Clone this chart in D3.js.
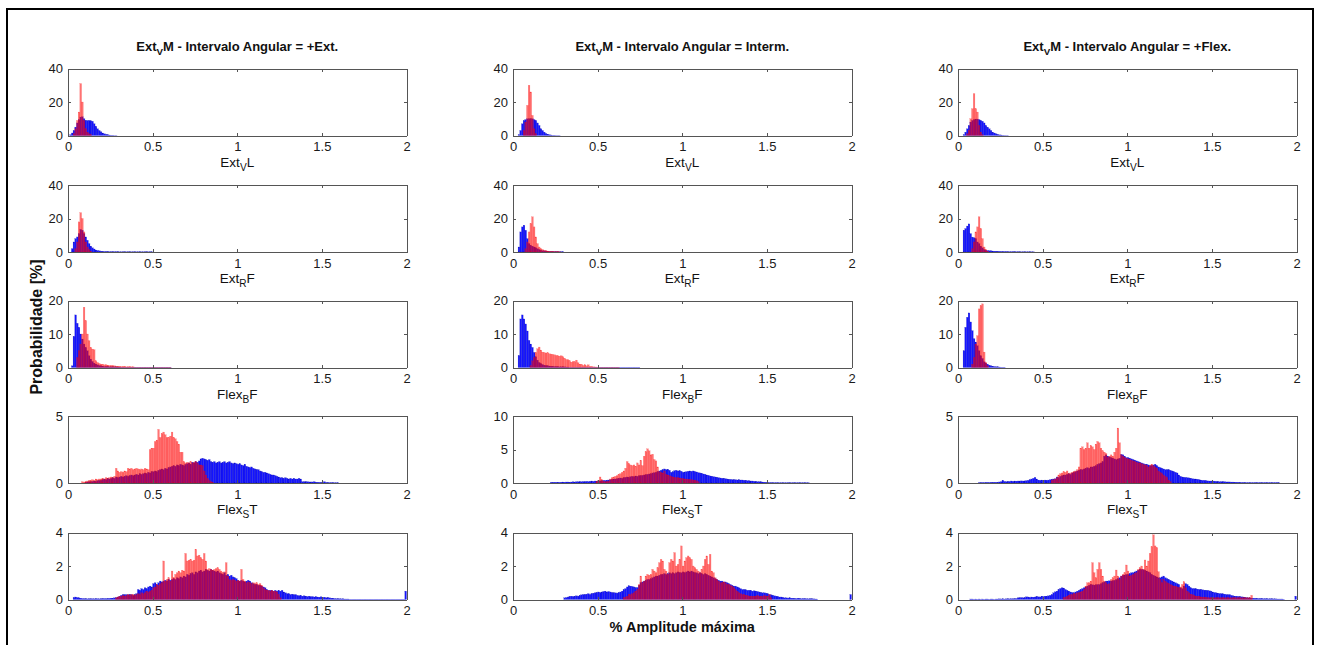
<!DOCTYPE html>
<html>
<head>
<meta charset="utf-8">
<script src="https://cdn.jsdelivr.net/npm/d3@7"></script>
<style>
  body { margin: 0; background: #fff; }
  svg { display: block; font-family: "Liberation Sans", Arial, sans-serif; }
  .ax path, .ax line { stroke: #555; shape-rendering: crispEdges; }
</style>
</head>
<body>
<div id="chart"></div>
<script>
// histogram bins are 0.01 wide; first entry of every series = index of its first bin
var binW = 0.01;
var xTicks = [0, 0.5, 1, 1.5, 2];
var colTitles = ["+Ext.", "Interm.", "+Flex."];
var rowLabels = [["Ext", "V", "L"], ["Ext", "R", "F"], ["Flex", "B", "F"], ["Flex", "S", "T"], null];
var yTicks = [
  [[0, 20, 40], [0, 20, 40], [0, 20, 40]],
  [[0, 20, 40], [0, 20, 40], [0, 20, 40]],
  [[0, 10, 20], [0, 10, 20], [0, 10, 20]],
  [[0, 5], [0, 5, 10], [0, 5]],
  [[0, 2, 4], [0, 2, 4], [0, 2, 4]]
];

// row 1 - Ext_V L
var b11 = [1, 0.5,1.5,3,5,7.5,9.5,11,11.2,10,9,9,9,8.8,8.5,7,5.5,4,3,2.2,1.5,1,0.7,0.5,0.3,0.2,0.2,0.1,0.1];
var r11 = [3, 1,4,9,14,31,20,9,4,2,1,0.5];
var b12 = [3, 0.5,3,7,9,9.5,10,10,10,10,9.5,9,7.5,6,4,3,2,1.2,0.8,0.5,0.3,0.2,0.2,0.1,0.1,0.1];
var r12 = [6, 3,8,18,30,26,12,4,1];
var b13 = [3, 0.5,2,4,6,8,9,9.5,9.8,9.8,9.5,9,8.5,7.5,6,5,4,3,2,1.5,1,0.6,0.4,0.3,0.2,0.15,0.1,0.1];
var r13 = [5, 1,3,10,16,25,16,14,6,2,0.5];

// row 2 - Ext_R F
var b21 = [2, 2,6,8,9,11,13.5,13,11,9,7,5,3.5,2.5,1.8,1.2,0.9,0.7,0.5,0.4,0.3,0.3,0.3,0.2,0.2,0.2,0.2,0.2,0.2,
  0.1,0.1,0.1,0.1,0.1,0.1,0.1,0.1,0.1,0.1,0.1,0.1,0.1,0.1,0.1,0.1,0.1,0.1,0.1,0.1];
var r21 = [4, 2,6,18,23.5,20,12,6,3,1.5,0.5];
var b22 = [3, 3,12,15,16,13,8,5,4,3.5,3,2.5,2,1.5,1,0.8,0.7,0.6,0.5,0.4,0.4,0.3,0.3,0.3,0.2,0.2,0.2,0.2];
var r22 = [7, 2,6,12,17,21,15,9,5,3,2,1.5,1,0.8,0.6,0.5,0.4,0.3,0.3,0.2,0.2,0.2];
var b23 = [3, 13,14,15.5,16.8,11,8.9,8.5,8,6,5,3.5,2.5,1.5,1,0.9,0.8,0.7,0.6,0.5,0.5,0.4,0.4,0.3,0.3,0.3,0.3,
  0.2,0.2,0.2,0.2,0.2,0.15,0.15,0.1,0.1,0.1,0.1,0.1,0.1,0.1,0.1,0.1];
var r23 = [8, 2,6,12,15,21,14,8,3,1.5,0.5];

// row 3 - Flex_B F
var b31 = [2, 0.5,9.3,15.7,13.2,12,10,8.5,7,6,5,3.5,2.5,1.8,1.3,1,0.8,0.6,0.5,0.4,0.3,0.3,0.3,0.2,0.2,0.2,0.2,
  0.2,0.15,0.15,0.1,0.1,0.1,0.1,0.1,0.1,0.1,0.1,0.1,0.1,0.1,0.1,0.1,0.1,0.1,0.1,0.1,0.1,0.1,0.1,0.1,0.1,0.1,0.1,
  0.1,0.1,0.1,0.1,0.1,0.1];
var r31 = [5, 3,5,7,10,18,14,10,8,6,5.5,5.3,2,1.5,1.2,1,0.9,0.8,0.8,0.7,0.6,0.6,0.5,0.5,0.4,0.4,0.4,0.3,0.3,
  0.3,0.2,0.2,0.2,0.2,0.2,0.1,0.1,0.1,0.1,0.1,0.1,0.1,0.1,0.1,0.1,0.1,0.1,0.1,0.1,0.1,0.1,0.1,0.1,0.1,0.1,0.1,0.1];
var b32 = [3, 3.6,14.5,15.7,14.5,13,10.9,8.1,7,6,4.5,3.2,2.2,1.5,1.2,0.9,0.7,0.6,0.5,0.45,0.4,0.35,0.3,0.3,
  0.25,0.2,0.2,0.2,0.2,0.15,0.15,0.1,0.1,0.1,0.1,0.1,0.1,0.1,0.1,0.1,0.1,0.1,0.1,0.1,0.1,0.1,0.1,0.1,0.1,0.1,
  0.1,0.1,0.1,0.1,0.1,0.1,0.1,0.1,0.1,0.1,0.1,0.1,0.1,0.1,0.1,0.1,0.1,0.1,0.1,0.1,0.1,0.1,0.1];
var r32 = [10, 0.5,2,3,4.5,5.6,6.1,5.2,4.6,4.5,4.3,4.4,4.1,4,3.8,3.8,3.6,3.5,3.4,3.5,3.2,2.8,2.4,2.3,2,1.6,
  1.8,1.7,2.2,1.4,1,1,0.6,0.8,0.5,0.8,0.3,0.2,0.2,0.15,0.15,0.1,0.1,0.1,0.1,0.1,0.1,0.1,0.1,0.1,0.1,0.1,0.1,0.1];
var b33 = [3, 5,12,15,16.3,13.6,11,8.6,7.6,6.5,5,3.5,2.7,1.7,1.3,1,0.7,0.5,0.4,0.3,0.2,0.2,0.15,0.1,0.1,0.1];
var r33 = [8, 1,3,7,9.5,17.5,18.5,19,4.6,1.5,0.5];

// row 4 - Flex_S T
var b41 = [10,
  0.05,0.08,0.1,0.1,0.12,0.15,0.12,0.18,0.2,0.2,
  0.25,0.3,0.25,0.35,0.3,0.35,0.4,0.35,0.45,0.4,
  0.45,0.5,0.45,0.5,0.55,0.5,0.55,0.6,0.55,0.6,
  0.65,0.6,0.7,0.65,0.7,0.75,0.7,0.8,0.75,0.85,
  0.85,0.9,0.85,0.95,1.0,1.05,1.0,1.1,1.05,1.15,
  1.2,1.25,1.3,1.25,1.35,1.3,1.4,1.35,1.3,1.4,
  1.45,1.5,1.4,1.55,1.5,1.6,1.55,1.65,1.8,1.85,
  1.8,1.75,1.7,1.75,1.6,1.55,1.6,1.5,1.55,1.6,
  1.5,1.55,1.6,1.5,1.55,1.6,1.5,1.45,1.5,1.45,
  1.4,1.45,1.35,1.3,1.4,1.25,1.2,1.15,1.2,1.1,
  1.05,1.0,1.0,0.9,0.85,0.8,0.8,0.75,0.7,0.65,
  0.6,0.6,0.55,0.5,0.45,0.4,0.4,0.35,0.4,0.35,
  0.3,0.35,0.3,0.35,0.3,0.3,0.35,0.3,0.1,0.1,
  0.1,0.1,0.08,0.08,0.08,0.1,0.06,0.06,0.05,0.05,
  0.05,0.1,0.04,0.04,0.03,0.03,0.03,0.02,0.02,0.02];
var r41 = [8,
  0.1,0.05,
  0.1,0.15,0.2,0.2,0.25,0.2,0.3,0.25,0.3,0.3,
  0.35,0.3,0.4,0.35,0.4,0.45,0.4,0.5,1.1,0.9,
  0.8,0.85,0.8,0.9,0.85,1.1,1.05,1.1,1.0,1.05,
  1.1,1.05,1.0,1.05,1.0,1.1,1.05,1.0,2.5,2.6,
  2.6,3.1,3.2,4.0,3.4,3.7,3.8,3.6,3.4,3.4,
  3.5,3.8,3.4,3.3,3.1,2.9,2.3,2.3,1.6,1.5,
  1.55,1.5,1.6,1.5,1.55,1.6,1.5,1.35,1.35,1.3,
  0.9,0.6,0.35,0.2,0.1,0.05];
var b42 = [22,
  0.1,0.1,0.12,0.1,0.12,0.1,0.12,0.15,
  0.12,0.15,0.15,0.12,0.15,0.18,0.15,0.2,0.18,0.2,
  0.2,0.22,0.2,0.25,0.22,0.25,0.3,0.25,0.3,0.28,
  0.3,0.32,0.35,0.4,0.38,0.42,0.45,0.5,0.55,0.6,
  0.6,0.65,0.7,0.75,0.7,0.8,0.85,0.9,0.85,0.95,
  1.0,0.95,1.05,1.0,1.1,1.1,1.15,1.2,1.25,1.3,
  1.35,1.4,1.5,1.55,1.6,1.7,1.8,1.9,2.0,2.1,
  2.0,2.05,1.9,1.6,1.7,1.85,1.9,1.8,1.85,1.75,
  1.6,1.65,1.7,1.75,1.8,1.75,1.8,1.7,1.65,1.55,
  1.5,1.45,1.35,1.3,1.2,1.15,1.05,1.0,0.95,0.9,
  0.85,0.8,0.75,0.7,0.7,0.65,0.6,0.55,0.55,0.5,
  0.5,0.5,0.45,0.5,0.45,0.45,0.4,0.4,0.35,0.35,
  0.3,0.3,0.25,0.25,0.2,0.2,0.18,0.15,0.12,0.1,
  0.08,0.07,0.06,0.05,0.05,0.05,0.04,0.04,0.04,0.04,
  0.04,0.04,0.04,0.04,0.04,0.04,0.04,0.04,0.04,0.04,0.04,0.04,0.04,0.04,0.04];
var r42 = [49,
  0.2,
  0.4,0.9,0.5,0.3,0.2,0.2,0.3,0.6,0.8,0.9,
  1.0,1.1,1.3,1.4,1.6,1.8,2.2,3.2,2.9,2.7,
  2.6,2.7,2.5,3.0,2.7,3.4,2.6,4.0,4.7,5.1,
  4.8,4.2,4.3,3.5,3.3,2.4,1.7,1.6,1.5,1.8,
  1.3,1.2,1.1,1.0,0.9,0.85,0.8,0.8,0.75,0.7,
  0.65,0.6,0.6,0.55,0.5,0.5,0.45,0.4,0.35,0.2];
var b43 = [12,
  0.03,0.03,0.04,0.03,0.04,0.05,0.04,0.05,
  0.05,0.06,0.05,0.06,0.08,0.1,0.2,0.12,0.1,0.12,
  0.12,0.15,0.12,0.15,0.14,0.15,0.15,0.16,0.15,0.16,
  0.18,0.2,0.25,0.3,0.35,0.42,0.3,0.22,0.2,0.22,
  0.2,0.22,0.2,0.22,0.25,0.28,0.3,0.32,0.45,0.4,
  0.5,0.55,0.6,0.6,0.65,0.7,0.65,0.75,0.8,0.85,
  0.9,0.95,1.0,1.0,1.05,1.1,1.15,1.1,1.2,1.2,
  1.25,1.3,1.4,1.45,1.5,1.6,2.0,2.1,2.0,1.95,
  1.9,1.85,1.8,1.75,1.8,1.85,2.14,2.1,2.0,1.9,
  1.9,1.85,1.8,1.75,1.7,1.65,1.6,1.55,1.5,1.45,
  1.4,1.4,1.35,1.3,1.3,1.35,1.4,1.3,1.2,1.15,
  1.1,1.05,1.0,1.0,1.0,0.95,0.9,0.85,0.8,0.75,
  0.6,0.5,0.45,0.42,0.42,0.4,0.38,0.35,0.32,0.3,
  0.3,0.28,0.25,0.22,0.2,0.2,0.18,0.16,0.15,0.15,
  0.15,0.14,0.12,0.12,0.1,0.1,0.1,0.1,0.08,0.08,
  0.08,0.07,0.07,0.06,0.06,0.05,0.05,0.04,0.04,0.04,
  0.03,0.03,0.03,0.03,0.03,0.03,0.03,0.03,0.03,0.03,0.03,0.03,0.03,0.03,0.03,0.03,0.03,0.03,0.03,0.03];
var r43 = [55,
  0.2,0.25,0.3,0.4,0.6,
  0.7,0.75,0.85,0.8,0.9,0.7,0.75,0.8,0.85,0.9,
  1.0,1.2,2.6,2.7,2.5,2.6,3.0,2.6,2.8,2.7,
  2.5,2.9,3.1,3.0,2.6,2.4,2.3,2.2,1.9,2.0,
  2.1,2.0,2.3,2.6,4.1,3.0,2.1,2.0,1.9,1.85,
  1.8,1.75,1.7,1.65,1.6,1.55,1.5,1.5,1.45,1.4,
  1.35,1.3,1.2,1.3,1.4,1.3,1.2,1.1,0.9,0.8,
  0.7,0.6,0.5,0.4,0.2,0.1];

// row 5 - no label
var b51 = [3,
  0.12,0.15,0.12,0.1,0.08,0.06,0.05,
  0.05,0.04,0.05,0.04,0.05,0.04,0.05,0.05,0.04,0.05,
  0.05,0.06,0.05,0.06,0.07,0.08,0.08,0.1,0.12,0.15,
  0.2,0.25,0.3,0.28,0.3,0.28,0.3,0.3,0.25,0.3,
  0.35,0.6,0.55,0.65,0.6,0.7,0.65,0.75,0.8,0.75,
  0.95,1.0,0.9,1.0,1.1,1.05,1.1,1.15,1.1,1.2,
  1.15,1.2,1.25,1.2,1.3,1.25,1.35,1.3,1.4,1.35,
  1.5,1.45,1.55,1.6,1.5,1.65,1.6,1.7,1.75,1.65,
  1.7,1.8,1.75,1.7,1.8,1.75,1.7,1.65,1.7,1.6,
  1.55,1.5,1.6,1.45,1.5,1.4,1.45,1.35,1.3,1.25,
  1.15,1.1,1.15,1.1,1.05,1.1,1.15,1.1,1.0,0.95,
  0.9,0.9,0.85,0.85,0.8,0.75,0.7,0.6,0.55,0.55,
  0.55,0.5,0.55,0.5,0.55,0.5,0.55,0.45,0.4,0.35,
  0.35,0.3,0.32,0.28,0.3,0.25,0.22,0.25,0.2,0.22,
  0.2,0.18,0.2,0.16,0.18,0.15,0.17,0.15,0.14,0.16,
  0.12,0.14,0.1,0.12,0.1,0.08,0.08,0.06,0.05,0.05,
  0.05,0.04,0.04,0.03,0.03,0.03,0.02,0.02,0.02,0.02,
  0.02,0.02,0.02,0.02,0.02,0.02,0.02,0.02,0.02,0.02,
  0.02,0.02,0.02,0.02,0.02,0.02,0.02,0.02,0.02,0.02,
  0.02,0.02,0.02,0.02,0.02,0.02,0.02,0.02,0.02,0.5];
var r51 = [28,
  0.1,0.15,
  0.2,0.2,0.25,0.2,0.25,0.3,0.25,0.3,0.3,0.25,
  0.3,0.35,0.3,0.4,0.35,0.4,0.5,0.45,0.5,0.55,
  0.7,0.75,0.9,0.85,0.95,1.0,2.3,1.1,1.2,1.3,
  1.1,1.7,1.3,1.5,1.6,1.7,1.6,1.75,1.7,2.75,
  2.3,2.35,2.4,2.3,2.35,3.0,2.6,2.65,2.5,2.4,
  2.75,2.3,1.8,1.85,1.8,1.75,1.8,1.85,1.9,1.8,
  1.7,1.6,1.65,2.2,1.4,1.2,1.15,1.2,1.15,1.1,
  1.15,1.1,1.8,1.2,1.1,1.0,1.05,1.0,0.95,1.0,
  0.95,1.0,0.9,0.95,0.85,0.7,0.6,0.55,0.55,0.5,
  0.55,0.5,0.5,0.45,0.3,0.1];
var b52 = [30,
  0.1,0.12,0.15,0.18,0.2,0.18,0.2,0.22,0.2,0.25,
  0.28,0.3,0.3,0.32,0.35,0.3,0.35,0.38,0.4,0.42,
  0.45,0.42,0.45,0.48,0.5,0.45,0.48,0.45,0.42,0.4,
  0.4,0.38,0.42,0.45,0.5,0.6,0.65,0.75,0.82,0.8,
  0.78,0.75,0.7,0.72,0.85,1.0,1.05,1.1,1.15,1.2,
  1.2,1.25,1.3,1.35,1.4,1.4,1.45,1.5,1.5,1.55,
  1.5,1.55,1.6,1.55,1.6,1.55,1.6,1.65,1.6,1.6,
  1.65,1.6,1.65,1.7,1.65,1.7,1.65,1.6,1.6,1.55,
  1.6,1.55,1.5,1.55,1.5,1.45,1.4,1.35,1.3,1.25,
  1.2,1.15,1.1,1.1,1.05,1.05,1.0,0.95,0.9,0.85,
  0.8,0.8,0.75,0.7,0.65,0.6,0.6,0.58,0.55,0.55,
  0.55,0.5,0.52,0.5,0.48,0.45,0.42,0.4,0.4,0.38,
  0.35,0.3,0.28,0.25,0.22,0.2,0.18,0.15,0.15,0.12,
  0.1,0.1,0.08,0.1,0.08,0.08,0.06,0.06,0.08,0.06,
  0.05,0.06,0.05,0.05,0.04,0.05,0.04,0.04,0.03,0.03,
  0,0,0,0,0,0,0,0,0,0,
  0,0,0,0,0,0,0,0,0,0.3];
var r52 = [65,
  0.1,0.15,0.2,0.3,0.3,
  0.35,0.4,0.5,0.6,0.9,1.4,1.0,1.1,1.4,1.5,
  1.45,1.5,1.8,1.7,1.6,1.9,2.2,2.4,2.3,1.8,
  1.7,1.5,2.2,2.4,2.3,2.8,2.0,2.1,2.4,3.2,
  2.0,2.3,2.5,2.6,2.5,2.4,2.0,1.9,1.8,1.7,
  1.6,1.8,2.0,2.4,2.6,2.1,2.7,1.7,1.6,1.3,
  1.2,1.1,1.0,1.0,1.05,1.0,0.9,0.9,0.85,0.8,
  0.7,0.6,0.5,0.4,0.35,0.3,0.3,0.25,0.25,0.2,
  0.2,0.2,0.2,0.2,0.25,0.2,0.2,0.2,0.25,0.2,0.2,0.3,0.1];
var b53 = [7,
  0.03,0.03,0.02,
  0.03,0.02,0.03,0.02,0.03,0.02,0.03,0.03,0.02,0.03,
  0.03,0.02,0.03,0.03,0.04,0.03,0.04,0.03,0.04,0.04,
  0.04,0.05,0.04,0.05,0.06,0.1,0.1,0.12,0.1,0.12,
  0.16,0.15,0.12,0.15,0.14,0.15,0.18,0.16,0.15,0.2,
  0.18,0.2,0.2,0.22,0.25,0.3,0.4,0.46,0.5,0.6,
  0.66,0.7,0.68,0.6,0.55,0.5,0.45,0.42,0.4,0.45,
  0.5,0.55,0.6,0.65,0.7,0.75,0.8,0.85,0.9,0.88,
  0.86,0.88,0.9,0.9,0.95,1.0,1.05,1.1,1.1,1.12,
  1.1,1.12,1.15,1.2,1.25,1.3,1.4,1.45,1.46,1.5,
  1.5,1.55,1.6,1.6,1.65,1.7,1.75,1.8,1.8,1.78,
  1.75,1.7,1.65,1.6,1.5,1.45,1.4,1.35,1.3,1.3,
  1.35,1.4,1.3,1.25,1.2,1.15,1.1,1.05,1.0,0.95,
  0.9,0.7,0.65,0.8,0.95,0.9,0.8,0.7,0.66,0.65,
  0.65,0.62,0.6,0.6,0.58,0.56,0.55,0.55,0.52,0.5,
  0.45,0.42,0.4,0.38,0.36,0.35,0.34,0.32,0.3,0.28,
  0.3,0.25,0.22,0.2,0.2,0.18,0.18,0.16,0.15,0.14,
  0.12,0.1,0.1,0.08,0.08,0.07,0.07,0.06,0.06,0.06,
  0.05,0.05,0.05,0.04,0.05,0.04,0.04,0.04,0.03,0.03,
  0.03,0.03,0.02,0,0,0,0,0,0,0.2];
var r53 = [62,
  0.1,0.15,0.2,0.25,0.3,0.3,0.35,0.35,
  0.4,0.4,0.45,0.5,0.6,0.8,1.0,1.0,1.1,2.2,
  1.6,1.3,1.8,2.2,1.8,1.4,1.1,1.0,0.9,0.95,
  1.2,1.3,1.4,1.76,1.4,1.2,1.4,1.5,1.6,2.06,
  1.7,1.4,1.45,1.5,1.55,1.6,1.8,1.9,2.0,1.8,
  2.36,2.0,2.3,2.76,3.16,3.86,3.2,3.1,1.66,1.2,
  1.0,1.2,1.1,1.0,0.95,0.9,0.85,0.8,0.8,0.75,
  0.7,0.75,0.9,1.06,0.7,0.5,0.4,0.3,0.3,0.25,
  0.2,0.2,0.2,0.15,0.15,0.15,0.12,0.12,0.1,0.1,
  0.1,0.1,0.1,0.1,0.1,0.1,0.1,0.1,0.1,0.1,
  0.1,0.1,0.1,0.1,0.1,0.1,0.1,0.1,0.1,0.1,0.1,0.1,0.1,0.25];

var blueSeries = [[b11, b12, b13], [b21, b22, b23], [b31, b32, b33], [b41, b42, b43], [b51, b52, b53]];
var redSeries = [[r11, r12, r13], [r21, r22, r23], [r31, r32, r33], [r41, r42, r43], [r51, r52, r53]];

// layout
var W = 1320, H = 645;
var colLeft = [68, 513, 958], plotW = 338.5;
var rowTop = [68.5, 185, 300.5, 416, 532.5], plotH = 67;
var fontFam = "'Liberation Sans', Arial, sans-serif";

var svg = d3.select("#chart").append("svg").attr("width", W).attr("height", H);

// frame round the figure
svg.append("rect")
  .attr("x", 7).attr("y", 9).attr("width", 1306).attr("height", 660)
  .attr("fill", "none").attr("stroke", "#000").attr("stroke-width", 2);

// text with one subscript in the middle
function subText(g, parts, x, y, size, weight) {
  var t = g.append("text").attr("x", x).attr("y", y)
    .attr("text-anchor", "middle").attr("font-family", fontFam)
    .attr("font-size", size).attr("font-weight", weight || "normal").attr("fill", "#111");
  t.append("tspan").text(parts[0]);
  t.append("tspan").attr("font-size", size * 0.75).attr("dy", 4).text(parts[1]);
  t.append("tspan").attr("dy", -4).text(parts[2]);
  return t;
}

function bins(s) {
  var off = s[0];
  return s.slice(1).map(function (v, i) {
    return { x0: (off + i) * binW, x1: (off + i + 1) * binW, v: v };
  }).filter(function (d) { return d.v > 0; });
}

function styleAxis(sel) {
  sel.attr("font-family", fontFam).attr("font-size", 13);
  sel.selectAll("text").attr("fill", "#1a1a1a");
}

for (var r = 0; r < 5; r++) {
  for (var c = 0; c < 3; c++) {
    var g = svg.append("g").attr("transform", "translate(" + colLeft[c] + "," + rowTop[r] + ")");
    var yt = yTicks[r][c];
    var x = d3.scaleLinear().domain([0, 2]).range([0, plotW]);
    var y = d3.scaleLinear().domain([0, yt[yt.length - 1]]).range([plotH, 0]);

    // blue first, red on top half transparent
    g.append("g").selectAll("rect").data(bins(blueSeries[r][c])).join("rect")
      .attr("x", function (d) { return x(d.x0); })
      .attr("width", function (d) { return x(d.x1) - x(d.x0); })
      .attr("y", function (d) { return y(d.v); })
      .attr("height", function (d) { return y(0) - y(d.v); })
      .attr("fill", "#0000ff").attr("fill-opacity", 0.92)
      .attr("stroke", "#0000a0").attr("stroke-width", 0.3).attr("stroke-opacity", 0.5);

    g.append("g").selectAll("rect").data(bins(redSeries[r][c])).join("rect")
      .attr("x", function (d) { return x(d.x0); })
      .attr("width", function (d) { return x(d.x1) - x(d.x0); })
      .attr("y", function (d) { return y(d.v); })
      .attr("height", function (d) { return y(0) - y(d.v); })
      .attr("fill", "#ff0000").attr("fill-opacity", 0.55)
      .attr("stroke", "#ff0000").attr("stroke-width", 0.3).attr("stroke-opacity", 0.45);

    // axes, ticks inward, mirrored on top and right
    g.append("g").attr("class", "ax").attr("transform", "translate(0," + plotH + ")")
      .call(d3.axisBottom(x).tickValues(xTicks).tickFormat(d3.format("~g"))
        .tickSizeInner(-3).tickSizeOuter(0).tickPadding(6.5))
      .call(styleAxis);
    g.append("g").attr("class", "ax")
      .call(d3.axisTop(x).tickValues(xTicks).tickFormat("").tickSizeInner(-3).tickSizeOuter(0));
    g.append("g").attr("class", "ax")
      .call(d3.axisLeft(y).tickValues(yt).tickFormat(d3.format("~g"))
        .tickSizeInner(-3).tickSizeOuter(0).tickPadding(5))
      .call(styleAxis);
    g.append("g").attr("class", "ax").attr("transform", "translate(" + plotW + ",0)")
      .call(d3.axisRight(y).tickValues(yt).tickFormat("").tickSizeInner(-3).tickSizeOuter(0));

    if (r === 0) {
      subText(g, ["Ext", "V", "M - Intervalo Angular = " + colTitles[c]], plotW / 2, -17.5, 13, "bold");
    }
    if (rowLabels[r]) {
      subText(g, rowLabels[r], plotW / 2, plotH + 31, 13.5);
    }
  }
}

svg.append("text")
  .attr("x", colLeft[1] + plotW / 2).attr("y", rowTop[4] + plotH + 32)
  .attr("text-anchor", "middle").attr("font-family", fontFam)
  .attr("font-size", 14.5).attr("font-weight", "bold").attr("fill", "#111")
  .text("% Amplitude máxima");

svg.append("text")
  .attr("transform", "translate(42,327) rotate(-90)")
  .attr("text-anchor", "middle").attr("font-family", fontFam)
  .attr("font-size", 16).attr("font-weight", "bold").attr("fill", "#111")
  .text("Probabilidade [%]");
</script>
</body>
</html>
